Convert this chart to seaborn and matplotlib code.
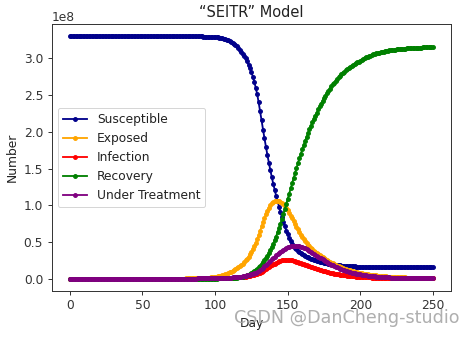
import numpy as np
import pandas as pd
import matplotlib
matplotlib.use("Agg")
import matplotlib.pyplot as plt
import seaborn as sns

# ---- data (values in units of 1e8 people) ----
days = list(range(0, 251))

susceptible = [
    3.3, 3.3, 3.3, 3.3, 3.3, 3.3, 3.3, 3.3, 3.3, 3.3,
    3.3, 3.3, 3.3, 3.3, 3.3, 3.3, 3.3, 3.3, 3.3, 3.3,
    3.3, 3.3, 3.3, 3.3, 3.3, 3.3, 3.3, 3.3, 3.3, 3.3,
    3.3, 3.3, 3.3, 3.3, 3.3, 3.3, 3.3, 3.3, 3.3, 3.3,
    3.3, 3.3, 3.3, 3.3, 3.3, 3.3, 3.3, 3.3, 3.3, 3.3,
    3.3, 3.3, 3.3, 3.3, 3.3, 3.3, 3.3, 3.3, 3.3, 3.3,
    3.3, 3.3, 3.3, 3.3, 3.3, 3.3, 3.3, 3.3, 3.3, 3.3,
    3.3, 3.3, 3.3, 3.3, 3.3, 3.3, 3.3, 3.3, 3.3, 3.3,
    3.3, 3.3, 3.3, 3.3, 3.3, 3.3, 3.3, 3.3, 3.3, 3.3,
    3.300, 3.300, 3.299, 3.299, 3.298, 3.298, 3.297, 3.296, 3.295, 3.294,
    3.292, 3.290, 3.287, 3.284, 3.280, 3.276, 3.271, 3.265, 3.258, 3.250,
    3.240, 3.229, 3.216, 3.201, 3.184, 3.165, 3.144, 3.120, 3.094, 3.066,
    3.035, 3.000, 2.960, 2.915, 2.866, 2.812, 2.752, 2.680, 2.600, 2.510,
    2.400, 2.280, 2.155, 2.030, 1.910, 1.795, 1.685, 1.580, 1.480, 1.385,
    1.295, 1.210, 1.130, 1.055, 0.980, 0.905, 0.835, 0.770, 0.710, 0.655,
    0.605, 0.558, 0.515, 0.478, 0.447, 0.421, 0.399, 0.380, 0.363, 0.348,
    0.334, 0.321, 0.309, 0.298, 0.288, 0.279, 0.271, 0.263, 0.256, 0.249,
    0.242, 0.236, 0.230, 0.225, 0.220, 0.215, 0.211, 0.207, 0.203, 0.199,
    0.196, 0.193, 0.190, 0.187, 0.185, 0.182, 0.180, 0.178, 0.176, 0.174,
    0.172, 0.171, 0.169, 0.168, 0.167, 0.166, 0.165, 0.164, 0.163, 0.162,
    0.161, 0.160, 0.160, 0.159, 0.159, 0.158, 0.158, 0.157, 0.157, 0.157,
    0.156, 0.156, 0.156, 0.156, 0.156, 0.156, 0.156, 0.156, 0.156, 0.156,
    0.155, 0.155, 0.155, 0.155, 0.155, 0.155, 0.155, 0.155, 0.155, 0.155,
    0.155, 0.155, 0.155, 0.155, 0.155, 0.155, 0.155, 0.155, 0.155, 0.155,
    0.155, 0.155, 0.155, 0.155, 0.155, 0.155, 0.155, 0.155, 0.155, 0.155,
    0.155,
]

exposed = [
    0.0, 0.0, 0.0, 0.0, 0.0, 0.0, 0.0, 0.0, 0.0, 0.0,
    0.0, 0.0, 0.0, 0.0, 0.0, 0.0, 0.0, 0.0, 0.0, 0.0,
    0.0, 0.0, 0.0, 0.0, 0.0, 0.0, 0.0, 0.0, 0.0, 0.0,
    0.0, 0.0, 0.0, 0.0, 0.0, 0.0, 0.0, 0.0, 0.0, 0.0,
    0.0, 0.0, 0.0, 0.0, 0.0, 0.0, 0.0, 0.0, 0.0, 0.0,
    0.0, 0.0, 0.0, 0.0, 0.0, 0.0, 0.0, 0.0, 0.0, 0.0,
    0.0, 0.0, 0.0, 0.0, 0.0, 0.0, 0.0, 0.0, 0.0, 0.0,
    0.001, 0.001, 0.001, 0.001, 0.001, 0.001, 0.001, 0.001, 0.001, 0.001,
    0.002, 0.002, 0.003, 0.003, 0.003, 0.004, 0.004, 0.005, 0.005, 0.006,
    0.007, 0.008, 0.009, 0.010, 0.011, 0.012, 0.014, 0.016, 0.018, 0.021,
    0.024, 0.028, 0.032, 0.036, 0.041, 0.047, 0.053, 0.060, 0.068, 0.077,
    0.087, 0.096, 0.106, 0.117, 0.129, 0.142, 0.156, 0.171, 0.187, 0.204,
    0.225, 0.247, 0.272, 0.300, 0.330, 0.363, 0.400, 0.440, 0.485, 0.535,
    0.590, 0.650, 0.710, 0.770, 0.828, 0.880, 0.927, 0.967, 1.000, 1.025,
    1.043, 1.055, 1.062, 1.064, 1.060, 1.050, 1.035, 1.015, 0.990, 0.961,
    0.929, 0.895, 0.859, 0.822, 0.784, 0.746, 0.708, 0.671, 0.635, 0.600,
    0.568, 0.538, 0.510, 0.484, 0.460, 0.438, 0.418, 0.399, 0.381, 0.364,
    0.348, 0.333, 0.318, 0.304, 0.290, 0.277, 0.264, 0.252, 0.240, 0.229,
    0.218, 0.207, 0.197, 0.187, 0.178, 0.169, 0.160, 0.152, 0.144, 0.137,
    0.130, 0.123, 0.117, 0.111, 0.105, 0.099, 0.094, 0.089, 0.084, 0.080,
    0.076, 0.072, 0.068, 0.064, 0.061, 0.058, 0.055, 0.052, 0.049, 0.046,
    0.044, 0.042, 0.040, 0.038, 0.036, 0.034, 0.032, 0.030, 0.029, 0.027,
    0.026, 0.025, 0.023, 0.022, 0.021, 0.020, 0.019, 0.018, 0.017, 0.016,
    0.015, 0.015, 0.014, 0.013, 0.012, 0.012, 0.011, 0.011, 0.010, 0.010,
    0.009, 0.009, 0.008, 0.008, 0.008, 0.007, 0.007, 0.006, 0.006, 0.006,
    0.005,
]

infection = [
    0.0, 0.0, 0.0, 0.0, 0.0, 0.0, 0.0, 0.0, 0.0, 0.0,
    0.0, 0.0, 0.0, 0.0, 0.0, 0.0, 0.0, 0.0, 0.0, 0.0,
    0.0, 0.0, 0.0, 0.0, 0.0, 0.0, 0.0, 0.0, 0.0, 0.0,
    0.0, 0.0, 0.0, 0.0, 0.0, 0.0, 0.0, 0.0, 0.0, 0.0,
    0.0, 0.0, 0.0, 0.0, 0.0, 0.0, 0.0, 0.0, 0.0, 0.0,
    0.0, 0.0, 0.0, 0.0, 0.0, 0.0, 0.0, 0.0, 0.0, 0.0,
    0.0, 0.0, 0.0, 0.0, 0.0, 0.0, 0.0, 0.0, 0.0, 0.0,
    0.0, 0.0, 0.0, 0.0, 0.0, 0.0, 0.0, 0.0, 0.0, 0.0,
    0.001, 0.001, 0.001, 0.001, 0.001, 0.001, 0.001, 0.001, 0.002, 0.002,
    0.002, 0.002, 0.002, 0.002, 0.002, 0.003, 0.003, 0.003, 0.003, 0.004,
    0.004, 0.004, 0.005, 0.005, 0.006, 0.006, 0.007, 0.007, 0.008, 0.009,
    0.010, 0.011, 0.012, 0.013, 0.014, 0.016, 0.017, 0.019, 0.021, 0.023,
    0.025, 0.028, 0.031, 0.034, 0.038, 0.042, 0.047, 0.052, 0.058, 0.065,
    0.073, 0.082, 0.092, 0.103, 0.115, 0.128, 0.141, 0.154, 0.167, 0.180,
    0.192, 0.204, 0.215, 0.225, 0.234, 0.242, 0.249, 0.254, 0.257, 0.258,
    0.258, 0.256, 0.253, 0.249, 0.244, 0.238, 0.232, 0.225, 0.218, 0.211,
    0.204, 0.197, 0.190, 0.183, 0.176, 0.169, 0.162, 0.155, 0.148, 0.141,
    0.134, 0.127, 0.121, 0.115, 0.109, 0.103, 0.097, 0.092, 0.087, 0.082,
    0.077, 0.073, 0.069, 0.065, 0.061, 0.057, 0.054, 0.051, 0.048, 0.045,
    0.042, 0.040, 0.037, 0.035, 0.033, 0.031, 0.029, 0.027, 0.026, 0.024,
    0.023, 0.021, 0.020, 0.019, 0.018, 0.017, 0.016, 0.015, 0.014, 0.013,
    0.012, 0.012, 0.011, 0.010, 0.010, 0.009, 0.009, 0.008, 0.008, 0.007,
    0.007, 0.007, 0.006, 0.006, 0.006, 0.005, 0.005, 0.005, 0.005, 0.004,
    0.004, 0.004, 0.004, 0.004, 0.004, 0.003, 0.003, 0.003, 0.003, 0.003,
    0.003, 0.003, 0.003, 0.002, 0.002, 0.002, 0.002, 0.002, 0.002, 0.002,
    0.002,
]

recovery = [
    0.0, 0.0, 0.0, 0.0, 0.0, 0.0, 0.0, 0.0, 0.0, 0.0,
    0.0, 0.0, 0.0, 0.0, 0.0, 0.0, 0.0, 0.0, 0.0, 0.0,
    0.0, 0.0, 0.0, 0.0, 0.0, 0.0, 0.0, 0.0, 0.0, 0.0,
    0.0, 0.0, 0.0, 0.0, 0.0, 0.0, 0.0, 0.0, 0.0, 0.0,
    0.0, 0.0, 0.0, 0.0, 0.0, 0.0, 0.0, 0.0, 0.0, 0.0,
    0.0, 0.0, 0.0, 0.0, 0.0, 0.0, 0.0, 0.0, 0.0, 0.0,
    0.0, 0.0, 0.0, 0.0, 0.0, 0.0, 0.0, 0.0, 0.0, 0.0,
    0.0, 0.0, 0.0, 0.0, 0.0, 0.0, 0.0, 0.0, 0.0, 0.0,
    0.0, 0.0, 0.0, 0.0, 0.0, 0.0, 0.0, 0.0, 0.0, 0.0,
    0.0, 0.0, 0.0, 0.0, 0.0, 0.001, 0.001, 0.001, 0.001, 0.001,
    0.001, 0.001, 0.002, 0.002, 0.002, 0.003, 0.003, 0.003, 0.004, 0.004,
    0.005, 0.006, 0.007, 0.009, 0.011, 0.013, 0.016, 0.019, 0.023, 0.028,
    0.034, 0.040, 0.047, 0.055, 0.064, 0.075, 0.087, 0.101, 0.116, 0.133,
    0.152, 0.173, 0.196, 0.221, 0.249, 0.279, 0.312, 0.347, 0.385, 0.426,
    0.470, 0.520, 0.573, 0.629, 0.688, 0.750, 0.814, 0.880, 0.948, 1.017,
    1.087, 1.158, 1.229, 1.300, 1.370, 1.439, 1.507, 1.573, 1.637, 1.699,
    1.760, 1.819, 1.876, 1.931, 1.984, 2.035, 2.084, 2.131, 2.176, 2.219,
    2.262, 2.305, 2.346, 2.386, 2.424, 2.460, 2.495, 2.528, 2.560, 2.590,
    2.619, 2.646, 2.672, 2.697, 2.720, 2.742, 2.763, 2.783, 2.802, 2.820,
    2.837, 2.853, 2.868, 2.883, 2.897, 2.910, 2.922, 2.934, 2.945, 2.956,
    2.970, 2.982, 2.993, 3.004, 3.014, 3.023, 3.032, 3.040, 3.048, 3.055,
    3.062, 3.068, 3.074, 3.080, 3.085, 3.090, 3.094, 3.098, 3.102, 3.106,
    3.109, 3.112, 3.115, 3.118, 3.121, 3.123, 3.125, 3.127, 3.129, 3.131,
    3.133, 3.135, 3.137, 3.138, 3.140, 3.141, 3.142, 3.144, 3.145, 3.146,
    3.147, 3.148, 3.149, 3.150, 3.151, 3.152, 3.153, 3.154, 3.155, 3.156,
    3.157,
]

under_treatment = [
    0.0, 0.0, 0.0, 0.0, 0.0, 0.0, 0.0, 0.0, 0.0, 0.0,
    0.0, 0.0, 0.0, 0.0, 0.0, 0.0, 0.0, 0.0, 0.0, 0.0,
    0.0, 0.0, 0.0, 0.0, 0.0, 0.0, 0.0, 0.0, 0.0, 0.0,
    0.0, 0.0, 0.0, 0.0, 0.0, 0.0, 0.0, 0.0, 0.0, 0.0,
    0.0, 0.0, 0.0, 0.0, 0.0, 0.0, 0.0, 0.0, 0.0, 0.0,
    0.0, 0.0, 0.0, 0.0, 0.0, 0.0, 0.0, 0.0, 0.0, 0.0,
    0.0, 0.0, 0.0, 0.0, 0.0, 0.0, 0.0, 0.0, 0.0, 0.0,
    0.0, 0.0, 0.0, 0.0, 0.0, 0.0, 0.0, 0.0, 0.0, 0.0,
    0.001, 0.001, 0.001, 0.001, 0.001, 0.001, 0.001, 0.001, 0.002, 0.002,
    0.002, 0.002, 0.002, 0.003, 0.003, 0.003, 0.003, 0.004, 0.004, 0.005,
    0.005, 0.006, 0.006, 0.007, 0.007, 0.008, 0.009, 0.010, 0.011, 0.012,
    0.013, 0.014, 0.016, 0.017, 0.019, 0.021, 0.023, 0.026, 0.028, 0.031,
    0.034, 0.038, 0.042, 0.046, 0.051, 0.057, 0.063, 0.070, 0.078, 0.087,
    0.100, 0.115, 0.131, 0.148, 0.166, 0.185, 0.204, 0.223, 0.242, 0.260,
    0.280, 0.299, 0.317, 0.334, 0.350, 0.365, 0.379, 0.392, 0.404, 0.415,
    0.425, 0.433, 0.440, 0.445, 0.448, 0.449, 0.448, 0.445, 0.440, 0.434,
    0.427, 0.419, 0.410, 0.400, 0.389, 0.377, 0.365, 0.352, 0.339, 0.326,
    0.313, 0.300, 0.287, 0.274, 0.261, 0.248, 0.236, 0.224, 0.212, 0.201,
    0.190, 0.180, 0.170, 0.160, 0.151, 0.142, 0.134, 0.126, 0.119, 0.112,
    0.105, 0.099, 0.093, 0.087, 0.082, 0.077, 0.072, 0.068, 0.064, 0.060,
    0.056, 0.053, 0.049, 0.046, 0.043, 0.041, 0.038, 0.036, 0.034, 0.032,
    0.030, 0.028, 0.026, 0.024, 0.023, 0.021, 0.020, 0.019, 0.018, 0.016,
    0.015, 0.014, 0.014, 0.013, 0.012, 0.011, 0.011, 0.010, 0.009, 0.009,
    0.008, 0.008, 0.007, 0.007, 0.007, 0.006, 0.006, 0.006, 0.005, 0.005,
    0.005, 0.005, 0.004, 0.004, 0.004, 0.004, 0.003, 0.003, 0.003, 0.003,
    0.003,
]

series_names = ["Susceptible", "Exposed", "Infection", "Recovery", "Under Treatment"]
series_colors = ["darkblue", "orange", "red", "green", "purple"]
series_values = [susceptible, exposed, infection, recovery, under_treatment]

for vals in series_values:
    assert len(vals) == len(days), len(vals)

# ---- styling (reference is a 72-dpi notebook figure scaled up ~1.22x) ----
S = 1.22
DPI = 72
plt.rcParams.update({
    "font.size": 10 * S,
    "axes.linewidth": 0.8 * S,
    "xtick.major.size": 3.5 * S,
    "ytick.major.size": 3.5 * S,
    "xtick.major.width": 0.8 * S,
    "ytick.major.width": 0.8 * S,
    "xtick.major.pad": 3.5 * S,
    "ytick.major.pad": 3.5 * S,
    "axes.titlepad": 6 * S,
    "axes.labelpad": 4 * S,
    "axes.edgecolor": "#333333",
    "xtick.color": "#333333",
    "ytick.color": "#333333",
    "text.color": "#222222",
    "axes.labelcolor": "#222222",
})

fig = plt.figure(figsize=(466 / DPI, 338 / DPI), dpi=DPI)
ax = fig.add_axes([0.111, 0.140, 0.857, 0.788])

for name, color, vals in zip(series_names, series_colors, series_values):
    df = pd.DataFrame({"Day": days, "Number": np.array(vals) * 1e8})
    sns.lineplot(data=df, x="Day", y="Number", ax=ax, color=color, label=name,
                 marker=".", markersize=6 * S, markeredgecolor=color,
                 markerfacecolor=color, markeredgewidth=1.0 * S,
                 linewidth=1.5 * S)

ax.set_title("\u201cSEITR\u201d Model", fontsize=12 * S)
ax.set_xlabel("Day", fontsize=10 * S)
ax.set_ylabel("Number", fontsize=10 * S)
ax.legend(loc="center left", fontsize=10 * S)

# watermark, drawn over the x-axis label as in the reference
fig.text(0.985, 0.059, "CSDN @DanCheng-studio", ha="right", va="center",
         fontsize=17.5, color="#a6a6a6", alpha=0.9)

fig.savefig("out.png", dpi=DPI)
